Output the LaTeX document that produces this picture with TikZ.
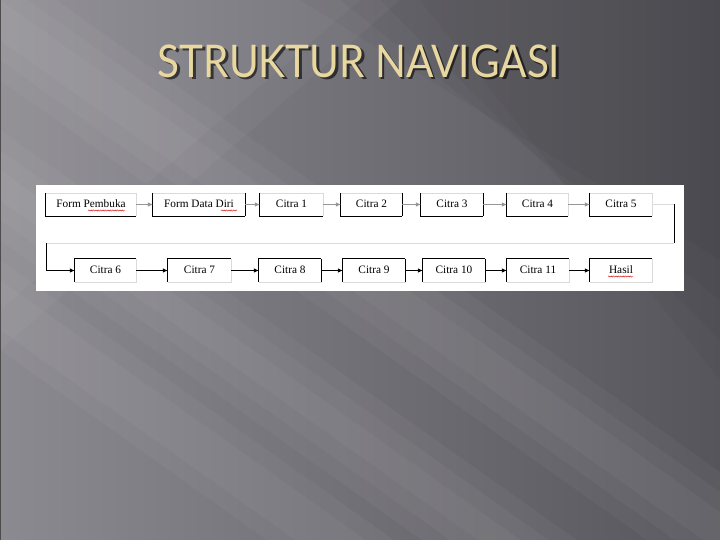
\documentclass[tikz,border=0pt]{standalone}
\usepackage{fontspec}
\setmainfont{Liberation Serif}
\newfontfamily\titlefont{Lato}
\usetikzlibrary{arrows.meta,decorations.pathmorphing}
\definecolor{bgdark}{RGB}{86,85,91}
\definecolor{bglight}{RGB}{140,138,145}
\definecolor{titlecol}{RGB}{232,216,160}
\definecolor{faintline}{RGB}{218,218,218}
\definecolor{graylink}{RGB}{150,150,150}
\begin{document}
\begin{tikzpicture}[x=1pt,y=-1pt,
  box/.style={minimum width=#1, minimum height=23pt, inner sep=0pt,
    text height=8pt, text depth=2pt,
    font=\fontsize{11.3}{12}\selectfont},
  edge/.style={draw=black, line width=0.8pt},
  faint/.style={draw=faintline, line width=0.5pt},
  tip/.style={-{Latex[length=5pt,width=4.5pt]}},
  linkA/.style={tip, draw=graylink, line width=0.6pt},
  linkB/.style={tip, draw=black, line width=0.8pt},
  squig/.style={draw=red!80!black, line width=0.4pt,
    decorate, decoration={snake, amplitude=0.6pt, segment length=2.4pt}},
  band/.style={white, opacity=0.035},
  titletext/.style={font=\titlefont\fontsize{45}{45}\selectfont, inner sep=0pt}]
\useasboundingbox (0,0) rectangle (720,540);
% background
\shade[left color=bglight, right color=bgdark] (0,0) rectangle (720,540);
\begin{scope}
\clip (0,0) rectangle (720,540);
% soft streaks: overlapping translucent bands
\foreach \c/\w in {-40/120,-20/80,0/40,130/110,150/70,170/30,260/90,280/50}{
  \fill[band] (0,\c) -- (0,\c+\w) -- (900,\c+\w+640) -- (900,\c+640) -- cycle;
}
\foreach \c/\w in {0/200,40/120}{
  \fill[band] (0,0) -- (\c+\w+200,0) -- (0,\c+\w+150) -- cycle;
}
\foreach \d in {0,40,80,120}{
  \fill[black, opacity=0.03] (720,0) -- (720,\d+260) -- (300+\d,0) -- cycle;
}
\end{scope}
\draw[black!70, line width=1pt] (0,0) rectangle (720,540);
% title
\node[titletext, text=black, opacity=0.6, xscale=0.9] (titleshadow) at (361.5,63.5) {STRUKTUR NAVIGASI};
\node[titletext, text=titlecol, xscale=0.9] (title) at (359,61) {STRUKTUR NAVIGASI};
% panel
\fill[white] (36,185) rectangle (684,291);
% row 1
\node[box=90pt] (fp) at (91,204.5) {Form Pembuka};
\node[box=92pt] (fdd) at (199,204.5) {Form Data Diri};
\node[box=63pt] (c1) at (291.5,204.5) {Citra 1};
\node[box=61pt] (c2) at (371.5,204.5) {Citra 2};
\node[box=62pt] (c3) at (452,204.5) {Citra 3};
\node[box=61pt] (c4) at (537.5,204.5) {Citra 4};
\node[box=62pt] (c5) at (621,204.5) {Citra 5};
% row 2
\node[box=61pt] (c6) at (105.5,270.5) {Citra 6};
\node[box=63pt] (c7) at (199.5,270.5) {Citra 7};
\node[box=62pt] (c8) at (290,270.5) {Citra 8};
\node[box=62pt] (c9) at (374,270.5) {Citra 9};
\node[box=62pt] (c10) at (454,270.5) {Citra 10};
\node[box=62pt] (c11) at (538,270.5) {Citra 11};
\node[box=62pt] (hasil) at (621,270.5) {Hasil};
% box edges, row 1
\foreach \n in {fp,fdd,c1,c2,c3,c4,c5}{
  \path[faint] (\n.north west) -- (\n.north east) -- (\n.south east);
  \path[edge] (\n.north west) -- (\n.south west) -- (\n.south east);
}
\foreach \n in {fdd,c2,c3}{ \path[edge] (\n.north east) -- (\n.south east); }
% box edges, row 2
\foreach \n in {c6,c7,c8,c9,c10,c11,hasil}{
  \path[faint] (\n.south west) -- (\n.south east) -- (\n.north east);
  \path[edge] (\n.south west) -- (\n.north west) -- (\n.north east);
}
\foreach \n in {c8,c9,c10}{ \path[edge] (\n.north east) -- (\n.south east); }
% spell-check underlines
\path[squig] (88,210.5) -- (125,210.5);
\path[squig] (221,210.5) -- (237,210.5);
\path[squig] (608,276.5) -- (633,276.5);
% connectors row 1
\draw[linkA] (fp) -- (fdd);
\draw[linkA] (fdd) -- (c1);
\draw[linkA] (c1) -- (c2);
\draw[linkA] (c2) -- (c3);
\draw[linkA] (c3) -- (c4);
\draw[linkA] (c4) -- (c5);
% wrap-around connector
\coordinate (r1) at (674,204.5);
\coordinate (r2) at (674,243);
\coordinate (l1) at (46,243);
\coordinate (l2) at (46,270.5);
\draw[faint] (c5.east) -- (r1);
\draw[faint] (r2) -- (l1);
\draw[edge] (r1) -- (r2);
\draw[linkB] (l1) -- (l2) -- (c6.west);
% connectors row 2
\draw[linkB] (c6) -- (c7);
\draw[linkB] (c7) -- (c8);
\draw[linkB] (c8) -- (c9);
\draw[linkB] (c9) -- (c10);
\draw[linkB] (c10) -- (c11);
\draw[linkB] (c11) -- (hasil);
\end{tikzpicture}
\end{document}
